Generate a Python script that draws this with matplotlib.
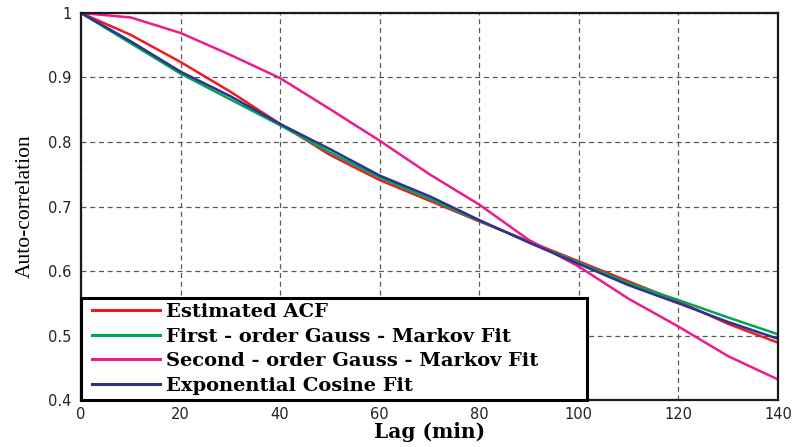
import numpy as np
import matplotlib
matplotlib.use("Agg")
import matplotlib.pyplot as plt
from matplotlib.legend_handler import HandlerLine2D

# ── DATA ──────────────────────────────────────────────────
lag = [0, 10, 20, 30, 40, 50, 60, 70, 80, 90, 100, 110, 120, 130, 140]

acf_est = [1.0, 0.966, 0.924, 0.878, 0.828, 0.780, 0.741, 0.709, 0.677,
           0.646, 0.615, 0.584, 0.553, 0.518, 0.489]
gm1_fit = [1.0, 0.953, 0.906, 0.866, 0.826, 0.784, 0.745, 0.712, 0.678,
           0.645, 0.613, 0.581, 0.555, 0.528, 0.502]
gm2_fit = [1.0, 0.993, 0.969, 0.935, 0.899, 0.851, 0.802, 0.750, 0.703,
           0.648, 0.607, 0.557, 0.514, 0.468, 0.432]
expcos_fit = [1.0, 0.956, 0.909, 0.871, 0.828, 0.789, 0.748, 0.716, 0.679,
              0.644, 0.611, 0.578, 0.550, 0.521, 0.495]

labels = ['Estimated ACF',
          'First - order Gauss - Markov Fit',
          'Second - order Gauss - Markov Fit',
          'Exponential Cosine Fit']
colors = ['#ED1C24', '#00A651', '#EC1C8C', '#2E3192']

x_ticks = [0, 20, 40, 60, 80, 100, 120, 140]
y_ticks = [0.4, 0.5, 0.6, 0.7, 0.8, 0.9, 1.0]
y_tick_labels = ['0.4', '0.5', '0.6', '0.7', '0.8', '0.9', '1']


# legend lines start a little in from the frame, like the original
class InsetLine(HandlerLine2D):
    def get_xdata(self, legend, xdescent, ydescent, width, height, fontsize):
        xd, xm = super().get_xdata(legend, xdescent, ydescent, width,
                                   height, fontsize)
        xd = np.array(xd, dtype=float)
        xd[0] += 0.3 * fontsize
        return xd, xm


# ── FIGURE ────────────────────────────────────────────────
fig = plt.figure(figsize=(7.97, 4.47), dpi=100)
ax = fig.add_axes([0.1016, 0.105, 0.8745, 0.866])

series = [acf_est, gm1_fit, gm2_fit, expcos_fit]
for y, c, lab in zip(series, colors, labels):
    ax.plot(lag, y, color=c, linewidth=1.8, label=lab)

ax.set_xlim(0, 140)
ax.set_ylim(0.4, 1.0)
ax.set_xticks(x_ticks)
ax.set_yticks(y_ticks)
ax.set_yticklabels(y_tick_labels)
ax.tick_params(length=0, pad=7, labelsize=10.5, labelcolor='#222222')
ax.tick_params(axis='x', pad=5)

ax.grid(True, color='#5a5a5a', linestyle=(0, (4, 3)), linewidth=0.9)
ax.set_axisbelow(True)
for s in ax.spines.values():
    s.set_linewidth(1.6)
    s.set_color('#1a1a1a')

ax.set_xlabel('Lag (min)', family='DejaVu Serif', fontweight='bold',
              fontsize=14.5, labelpad=0)
ax.set_ylabel('Auto-correlation', family='Liberation Serif', fontsize=15.5,
              labelpad=9)

leg = ax.legend(loc='lower left', bbox_to_anchor=(0.0, 0.0, 0.726, 0.269),
                mode='expand', borderaxespad=0, fancybox=False,
                edgecolor='black', framealpha=1, handlelength=3.8,
                handletextpad=0.3, labelspacing=0.34, borderpad=0.27,
                handler_map={plt.Line2D: InsetLine()},
                prop={'family': 'DejaVu Serif', 'weight': 'bold', 'size': 14})
leg.get_frame().set_linewidth(2.2)
for line in leg.get_lines():
    line.set_linewidth(2.2)

fig.savefig('out.png', dpi=100)
